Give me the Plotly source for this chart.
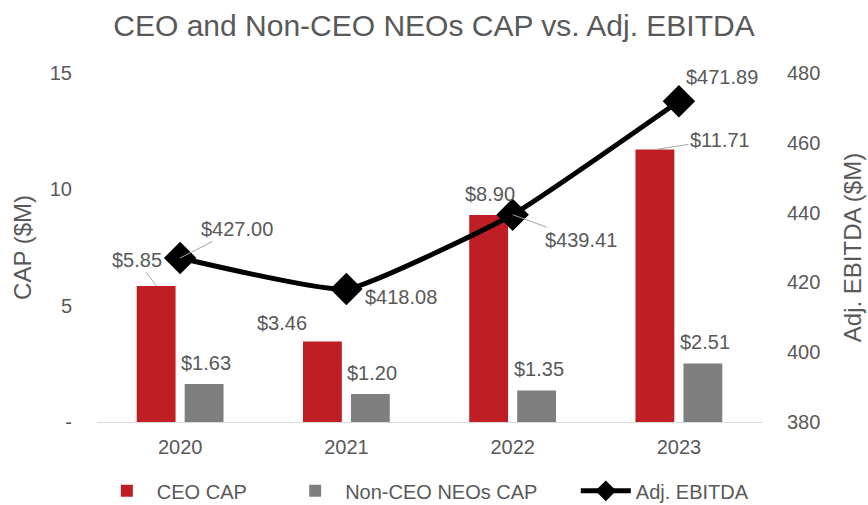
import plotly.graph_objects as go

# data
anos = ["2020", "2021", "2022", "2023"]
ceo_cap = [5.85, 3.46, 8.90, 11.71]
neo_cap = [1.63, 1.20, 1.35, 2.51]
ebitda = [427.00, 418.08, 439.41, 471.89]

cinza_txt = "#595959"
vermelho = "#BE1E24"
cinza = "#7F7F7F"
fonte = "Liberation Sans, Arial, sans-serif"
esp = "\u00a0" * 6  # espaço extra entre itens da legenda

fig = go.Figure()

fig.add_trace(go.Bar(
    x=anos, y=ceo_cap, name="CEO CAP" + esp,
    marker=dict(color=vermelho, line=dict(width=0)),
))

fig.add_trace(go.Bar(
    x=anos, y=neo_cap, name="Non-CEO NEOs CAP" + esp,
    marker=dict(color=cinza, line=dict(width=0)),
))

fig.add_trace(go.Scatter(
    x=anos, y=ebitda, name="Adj. EBITDA", yaxis="y2",
    mode="lines+markers",
    line=dict(color="black", width=5, shape="spline", smoothing=0.4),
    marker=dict(symbol="diamond", size=25, color="black"),
))

# ==========================================
# RÓTULOS (deslocamentos em px)
# ==========================================

desloc = 0.144  # meia largura do slot da barra em unidades de categoria

# (dx, dy, linha guia?)
pos_ceo = [(-19, -26, True), (-40, -19, False), (1, -21, False), (65, -10, True)]
pos_neo = [(2, -21, False), (2, -21, False), (2, -22, False), (2, -22, False)]
pos_ebt = [(57, -29, True), (55, 8, False), (68, 25, True), (43, -24, False)]

anotacoes = []


def rotulo(x, y, texto, pos, yref="y"):
    dx, dy, guia = pos
    base = dict(x=x, y=y, xref="x", yref=yref, text=texto,
                font=dict(size=20, color=cinza_txt, family=fonte))
    if guia:
        base.update(showarrow=True, ax=dx, ay=dy, arrowhead=0,
                    arrowwidth=1, arrowcolor="#A6A6A6", standoff=0)
    else:
        base.update(showarrow=False, xshift=dx, yshift=-dy)
    return base


for i in range(len(anos)):
    anotacoes.append(rotulo(i - desloc, ceo_cap[i], f"${ceo_cap[i]:.2f}", pos_ceo[i]))
    anotacoes.append(rotulo(i + desloc, neo_cap[i], f"${neo_cap[i]:.2f}", pos_neo[i]))
    anotacoes.append(rotulo(i, ebitda[i], f"${ebitda[i]:.2f}", pos_ebt[i], "y2"))

fig.update_layout(
    width=868, height=505,
    margin=dict(l=97, r=106, t=73, b=83),
    paper_bgcolor="white", plot_bgcolor="white",
    font=dict(family=fonte, color=cinza_txt, size=20),
    title=dict(text="CEO and Non-CEO NEOs CAP vs. Adj. EBITDA",
               x=0.5, xanchor="center", y=0.95, yanchor="middle",
               font=dict(size=30, color=cinza_txt)),
    barmode="group", bargap=0.423, bargroupgap=0.19,
    showlegend=True,
    legend=dict(orientation="h", x=0.49, xanchor="center", xref="container",
                y=0.028, yanchor="middle", yref="container",
                font=dict(size=20, color=cinza_txt), itemwidth=50,
                traceorder="normal"),
    xaxis=dict(showgrid=False, showline=True, linecolor="#D9D9D9", linewidth=1,
               ticks="", ticklabelstandoff=7, tickfont=dict(size=20),
               automargin=False),
    yaxis=dict(range=[0, 15], tickvals=[0, 5, 10, 15], ticktext=["-", "5", "10", "15"],
               showgrid=False, zeroline=False, showline=False,
               ticklabelstandoff=24, tickfont=dict(size=20), automargin=False,
               title=dict(text="CAP ($M)", font=dict(size=24), standoff=11)),
    yaxis2=dict(range=[380, 480], tickvals=[380, 400, 420, 440, 460, 480],
                overlaying="y", side="right",
                showgrid=False, zeroline=False, showline=False,
                ticklabelstandoff=24, tickfont=dict(size=20), automargin=False,
                title=dict(text="Adj. EBITDA ($M)", font=dict(size=24), standoff=24)),
    annotations=anotacoes,
)

# tira a margem padrão do body para a figura ficar alinhada à janela
fig.write_html("out.html", config={"displayModeBar": False},
               post_script="document.body.style.margin='0';")
